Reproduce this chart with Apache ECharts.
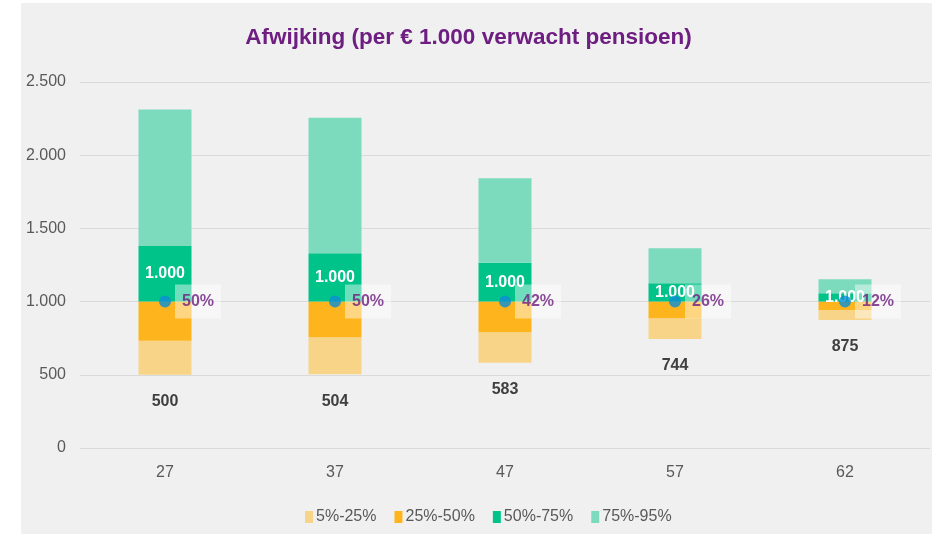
<!DOCTYPE html>
<html>
<head>
<meta charset="utf-8">
<script src="https://cdn.jsdelivr.net/npm/echarts@6/dist/echarts.min.js"></script>
<style>
  html, body { margin: 0; padding: 0; background: #ffffff; }
  #chart { width: 937px; height: 534px; }
</style>
</head>
<body>
<div id="chart"></div>
<script>
// leeftijden
var leeftijden = ['27', '37', '47', '57', '62'];
// percentielen (per € 1.000 verwacht pensioen)
var p5  = [500, 504, 583, 744, 875];
var p25 = [733, 756, 790, 886, 943];
var p50 = [1000, 1000, 1000, 1000, 1000];
var p75 = [1380, 1330, 1266, 1125, 1057];
var p95 = [2313, 2256, 1842, 1364, 1152];
// afwijking t.o.v. verwacht
var afwijking = ['50%', '50%', '42%', '26%', '12%'];
// tick labels y-as
var yTicks = [0, 500, 1000, 1500, 2000, 2500];

var FONT = '"Liberation Sans", Arial, sans-serif';
var PAARS = '#6e1d80';

function nl(v) {
	return String(v).replace(/\B(?=(\d{3})+(?!\d))/g, '.');
}

function verschil(a, b) {
	return a.map(function (v, i) { return v - b[i]; });
}

var chart = echarts.init(document.getElementById('chart'));

chart.setOption({
	animation: false,
	textStyle: { fontFamily: FONT },
	graphic: [{
		type: 'rect',
		z: -10,
		shape: { x: 21, y: 3, width: 911, height: 531 },
		style: { fill: '#f0f0f0' }
	}],
	title: {
		text: 'Afwijking (per € 1.000 verwacht pensioen)',
		left: 'center',
		top: 21,
		textStyle: { color: PAARS, fontSize: 22.5, fontWeight: 'bold', fontFamily: FONT }
	},
	legend: {
		bottom: 4,
		left: 300,
		itemWidth: 8,
		itemHeight: 12,
		itemGap: 18,
		icon: 'rect',
		textStyle: { color: '#595959', fontSize: 16, fontFamily: FONT, padding: [0, 0, 0, -2] },
		data: ['5%-25%', '25%-50%', '50%-75%', '75%-95%']
	},
	grid: { left: 80, right: 7, top: 82, bottom: 86 },
	xAxis: {
		type: 'category',
		data: leeftijden,
		axisLine: { show: false },
		axisTick: { show: false },
		axisLabel: { color: '#595959', fontSize: 16, margin: 17 }
	},
	yAxis: {
		type: 'value',
		min: yTicks[0],
		max: yTicks[yTicks.length - 1],
		interval: 500,
		axisLabel: { color: '#595959', fontSize: 16, margin: 14, formatter: nl },
		splitLine: { lineStyle: { color: '#d9d9d9', width: 1 } }
	},
	series: [
		{
			name: 'basis',
			type: 'bar',
			stack: 'tot',
			barWidth: 53,
			data: p5,
			itemStyle: { color: 'transparent' },
			label: {
				show: true,
				position: 'insideTop',
				distance: 19,
				color: '#404040',
				fontSize: 16,
				fontWeight: 'bold',
				formatter: function (p) { return nl(p.value); }
			}
		},
		{
			name: '5%-25%',
			type: 'bar',
			stack: 'tot',
			data: verschil(p25, p5),
			itemStyle: { color: '#f8d488' }
		},
		{
			name: '25%-50%',
			type: 'bar',
			stack: 'tot',
			data: verschil(p50, p25),
			itemStyle: { color: '#feb51d' }
		},
		{
			name: '50%-75%',
			type: 'bar',
			stack: 'tot',
			data: verschil(p75, p50),
			itemStyle: { color: '#00c389' },
			label: {
				show: true,
				position: 'inside',
				color: '#ffffff',
				fontSize: 16,
				fontWeight: 'bold',
				formatter: function (p) { return nl(p50[p.dataIndex]); }
			}
		},
		{
			name: '75%-95%',
			type: 'bar',
			stack: 'tot',
			data: verschil(p95, p75),
			itemStyle: { color: '#7ddbbd' }
		},
		{
			name: 'verwacht',
			type: 'scatter',
			data: p50,
			symbolSize: 12,
			z: 5,
			itemStyle: { color: '#0a8fd6' },
			label: {
				show: true,
				position: 'right',
				distance: 4,
				color: PAARS,
				fontSize: 16,
				fontWeight: 'bold',
				backgroundColor: 'rgba(255,255,255,0.55)',
				padding: [9, 7, 9, 7],
				formatter: function (p) { return afwijking[p.dataIndex]; }
			}
		}
	]
});
</script>
</body>
</html>
